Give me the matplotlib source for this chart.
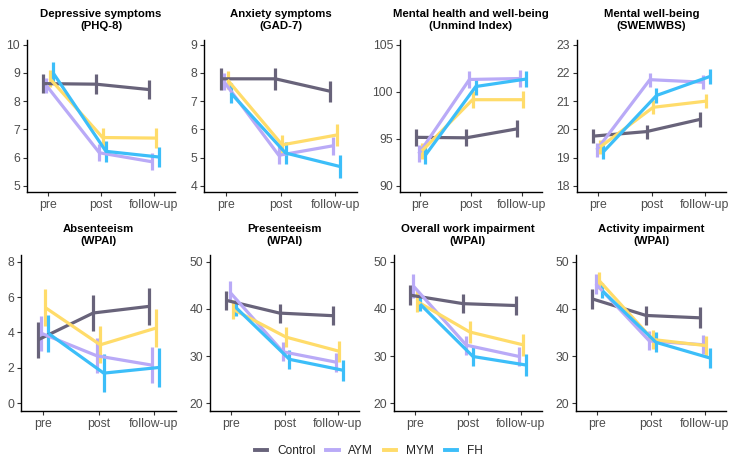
import matplotlib
matplotlib.use("Agg")
import matplotlib.pyplot as plt
from matplotlib.lines import Line2D
import numpy as np

plt.rcParams['font.family'] = ['Liberation Sans', 'DejaVu Sans']

timepoints = ["pre", "post", "follow-up"]
groups = ["Control", "AYM", "MYM", "FH"]
colors = {"Control": "#68637A", "AYM": "#B9AAF7", "MYM": "#FFDC6A", "FH": "#3CBEF9"}

titles = [
    "Depressive symptoms\n(PHQ-8)",
    "Anxiety symptoms\n(GAD-7)",
    "Mental health and well-being\n(Unmind Index)",
    "Mental well-being\n(SWEMWBS)",
    "Absenteeism\n(WPAI)",
    "Presenteeism\n(WPAI)",
    "Overall work impairment\n(WPAI)",
    "Activity impairment\n(WPAI)",
]

yticks = [
    [5, 6, 7, 8, 9, 10],
    [4, 5, 6, 7, 8, 9],
    [90, 95, 100, 105],
    [18, 19, 20, 21, 22, 23],
    [0, 2, 4, 6, 8],
    [20, 30, 40, 50],
    [20, 30, 40, 50],
    [20, 30, 40, 50],
]

# means per panel: Control, AYM, MYM, FH  (pre, post, follow-up)
phq_mean = {"Control": [8.62, 8.6, 8.41], "AYM": [8.55, 6.17, 5.85], "MYM": [8.8, 6.71, 6.69], "FH": [9.0, 6.22, 6.02]}
phq_err = {"Control": [0.35, 0.35, 0.34], "AYM": [0.28, 0.3, 0.3], "MYM": [0.3, 0.32, 0.35], "FH": [0.4, 0.38, 0.36]}

gad_mean = {"Control": [7.79, 7.79, 7.35], "AYM": [7.68, 5.08, 5.42], "MYM": [7.75, 5.45, 5.8], "FH": [7.28, 5.16, 4.68]}
gad_err = {"Control": [0.38, 0.38, 0.38], "AYM": [0.3, 0.32, 0.32], "MYM": [0.32, 0.36, 0.4], "FH": [0.35, 0.38, 0.4]}

umi_mean = {"Control": [95.15, 95.1, 96.05], "AYM": [93.4, 101.3, 101.4], "MYM": [93.7, 99.15, 99.15], "FH": [93.2, 100.55, 101.35]}
umi_err = {"Control": [0.9, 0.9, 0.9], "AYM": [0.9, 0.9, 0.9], "MYM": [0.9, 0.9, 0.9], "FH": [0.9, 0.9, 0.9]}

swe_mean = {"Control": [19.76, 19.92, 20.35], "AYM": [19.27, 21.76, 21.67], "MYM": [19.37, 20.78, 21.0], "FH": [19.2, 21.2, 21.87]}
swe_err = {"Control": [0.25, 0.25, 0.25], "AYM": [0.25, 0.25, 0.25], "MYM": [0.25, 0.25, 0.25], "FH": [0.25, 0.25, 0.25]}

abs_mean = {"Control": [3.58, 5.1, 5.47], "AYM": [3.95, 2.68, 2.15], "MYM": [5.42, 3.3, 4.24], "FH": [3.95, 1.7, 2.02]}
abs_err = {"Control": [1.0, 1.03, 1.04], "AYM": [0.98, 1.0, 1.03], "MYM": [1.04, 1.04, 1.06], "FH": [1.05, 1.08, 1.1]}

pre_mean = {"Control": [41.8, 39.1, 38.55], "AYM": [43.6, 30.9, 28.7], "MYM": [39.9, 34.0, 31.0], "FH": [40.2, 29.3, 27.0]}
pre_err = {"Control": [2.0, 2.0, 2.0], "AYM": [2.2, 2.0, 2.0], "MYM": [2.0, 2.1, 2.2], "FH": [1.8, 2.0, 2.2]}

owi_mean = {"Control": [42.9, 41.1, 40.7], "AYM": [44.8, 32.3, 29.9], "MYM": [41.6, 35.1, 32.4], "FH": [41.0, 29.9, 28.1]}
owi_err = {"Control": [2.1, 2.0, 2.1], "AYM": [2.5, 2.0, 2.0], "MYM": [2.3, 2.3, 2.3], "FH": [1.5, 2.1, 2.3]}

act_mean = {"Control": [42.1, 38.6, 38.1], "AYM": [45.3, 33.2, 32.4], "MYM": [46.0, 33.5, 32.2], "FH": [43.8, 32.9, 29.6]}
act_err = {"Control": [2.1, 2.0, 2.2], "AYM": [2.1, 2.0, 2.0], "MYM": [1.8, 2.1, 2.1], "FH": [1.6, 2.1, 2.2]}

means = [phq_mean, gad_mean, umi_mean, swe_mean, abs_mean, pre_mean, owi_mean, act_mean]
errs = [phq_err, gad_err, umi_err, swe_err, abs_err, pre_err, owi_err, act_err]

W, H = 733, 466
fig = plt.figure(figsize=(W / 100, H / 100), dpi=100)

# panel boxes in pixels: left, right, top, bottom
boxes = [
    (27, 175, 40, 192), (204, 357, 40, 192), (400, 542, 40, 192), (577, 726, 40, 192),
    (21, 176, 255, 411), (210, 359, 255, 411), (394, 542, 255, 411), (576, 726, 255, 411),
]

offsets = {"Control": -0.09375, "AYM": -0.03125, "MYM": 0.03125, "FH": 0.09375}
xbase = np.array([1, 2, 3])
lw = 2.3
tickcol = "#4D4D4D"

for i in range(8):
    l, r, t, b = boxes[i]
    ax = fig.add_axes([l / W, 1 - b / H, (r - l) / W, (b - t) / H])
    for g in groups:
        x = xbase + offsets[g]
        m = np.array(means[i][g])
        e = np.array(errs[i][g])
        ax.errorbar(x, m, yerr=e, color=colors[g], lw=lw, elinewidth=lw,
                    capsize=0, solid_capstyle='butt')
    yt = yticks[i]
    lo, hi = yt[0], yt[-1]
    R = hi - lo
    if i < 4:
        ax.set_ylim(lo - 0.044 * R, hi + 0.033 * R)
    else:
        ax.set_ylim(lo - 0.055 * R, hi + 0.047 * R)
    ax.set_xlim(0.6, 3.4)
    ax.set_yticks(yt)
    ax.set_yticklabels([str(v) for v in yt])
    ax.set_xticks(xbase)
    ax.set_xticklabels(timepoints)
    for s in ["top", "right"]:
        ax.spines[s].set_visible(False)
    for s in ["left", "bottom"]:
        ax.spines[s].set_linewidth(1.0)
        ax.spines[s].set_color("black")
    ax.tick_params(axis='both', length=3, width=0.8, color="#333333",
                   labelsize=8.8, labelcolor=tickcol, pad=2)
    ax.set_facecolor("none")
    fig.text((l + r) / 2 / W, 1 - (t - 9) / H, titles[i], ha='center', va='bottom',
             fontsize=8.2, fontweight='bold', linespacing=1.3, color="black")

handles = [Line2D([0], [0], color=colors[g], lw=2.8) for g in groups]
fig.legend(handles, groups, loc='center', bbox_to_anchor=(0.503, 1 - 451 / H),
           ncol=4, frameon=False, fontsize=8.6, handlelength=1.05,
           columnspacing=0.9, handletextpad=0.8, labelcolor="#222222")

fig.savefig("out.png", dpi=100)
